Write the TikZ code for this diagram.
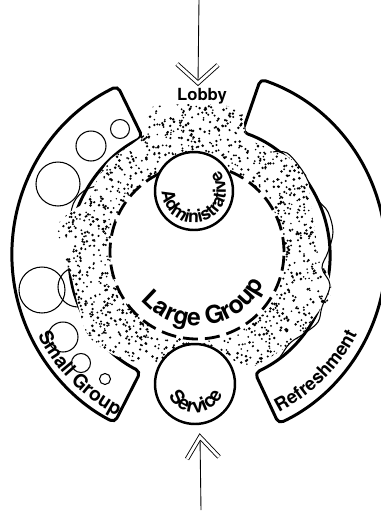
\documentclass[tikz,border=0pt]{standalone}
\usepackage{fontspec}
\setmainfont{TeX Gyre Heros}
\usetikzlibrary{decorations.text,calc}

\tikzset{
  wing/.style={line width=1.7pt, rounded corners=0.1cm},
  room/.style={circle, draw, line width=1.4pt, fill=white, inner sep=0pt},
  seat/.style={line width=0.6pt},
  chevron/.style={double, double distance=1.6pt, line width=0.5pt},
  feed/.style={line width=0.5pt},
  curved/.style={decorate, decoration={text along path, text align=center, text={#1}}}
}
\def\lobbyedge{plot[smooth cycle, tension=0.55] coordinates {(-52,137) (-48,148) (-5,151) (38,147) (43,135) (48,117) (68,107) (90,97) (106,80) (110,60) (113,35) (120,2) (130,-25) (130,-42) (118,-57) (98,-83) (72,-101) (50,-112) (30,-103) (15,-92) (-5,-89) (-25,-93) (-45,-110) (-65,-107) (-90,-98) (-112,-80) (-122,-50) (-130,-17) (-142,10) (-142,30) (-130,43) (-112,55) (-102,77) (-90,95) (-65,113) (-54,123)}}

\begin{document}
\begin{tikzpicture}[x=0.02cm,y=0.02cm]
\useasboundingbox (-200,-257) rectangle (180,255);

\draw[wing] (116:188) arc[start angle=116, end angle=243, radius=188] -- (243:131) arc[start angle=243, end angle=116, radius=131] -- cycle;
\draw[wing] (71:186) arc[start angle=71, end angle=-65, radius=186] -- (-65:130) arc[start angle=-65, end angle=71, radius=130] -- cycle;

\foreach \cx/\cy/\r in {-80/126/9.5, -109/109/15, -142/71/22, -100/40/29, -158/-35/23, -122/-32/20, -137/-82/15, -119/-108/9.5, -95/-124/5.5}
  \draw[seat] (\cx,\cy) circle (\r);

\fill[white] \lobbyedge;
\begin{scope}
\clip \lobbyedge;
\pgfmathsetseed{31}
\foreach \i in {1,...,2300}{
  \pgfmathsetmacro{\ang}{360*rnd}
  \pgfmathsetmacro{\rad}{10*sqrt(74+rnd*182)}
  \pgfmathsetmacro{\dotr}{0.8+0.7*rnd}
  \fill (\ang:\rad) circle (\dotr);
}
\end{scope}

\coordinate (hall) at (-3,3);
\fill[white] (hall) circle (87);
\draw[line width=1.6pt, dash pattern=on 0.3cm off 0.14cm] (hall) circle (87);

\draw[seat] plot[smooth, tension=0.6] coordinates {(73,103) (87,102) (102,85) (110,70) (118,55) (128,43) (133,23) (128,3) (122,-13) (130,-30) (122,-52) (118,-67) (105,-78) (90,-88) (80,-102) (73,-108)};

\node[room, minimum size=1.56cm] (admin) at (-6,64) {};
\node[room, minimum size=1.6cm] (service) at (-5,-129) {};

\node[font=\bfseries\fontsize{9.5}{11}\selectfont] (lobby) at (2,159) {Lobby};
\path[curved={|\bfseries\fontsize{10}{12}\selectfont|Administrative}] ($(admin.center)+(120:32)$) arc[start angle=120, end angle=460, radius=32];
\path[curved={|\bfseries\fontsize{11}{13}\selectfont|Service}] ($(service.center)+(123:29)$) arc[start angle=123, end angle=423, radius=29];
\path[curved={|\bfseries\fontsize{14}{16}\selectfont|Large Group}] ($(hall)+(128:74)$) arc[start angle=128, end angle=428, radius=74];
\path[curved={|\bfseries\fontsize{11}{13}\selectfont|Small Group}] (184.5:181) arc[start angle=184.5, end angle=264.5, radius=181];
\path[curved={|\bfseries\fontsize{10.5}{12}\selectfont|Refreshment}] (285:176) arc[start angle=285, end angle=345, radius=176];

\coordinate (topstart) at (-1,255);
\coordinate (lobbytip) at (-2,172);
\draw[feed] (topstart) -- (lobbytip);
\draw[chevron] ($(lobbytip)+(-21,19)$) -- (lobbytip) -- ($(lobbytip)+(20,18)$);

\coordinate (botstart) at (1,-255);
\coordinate (servicetip) at (0,-182);
\draw[feed] (botstart) -- (servicetip);
\draw[chevron] ($(servicetip)+(-13,-22)$) -- (servicetip) -- ($(servicetip)+(19,-20)$);
\end{tikzpicture}
\end{document}
